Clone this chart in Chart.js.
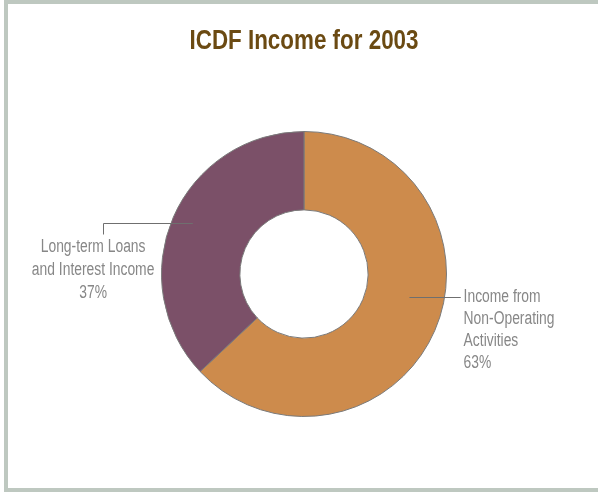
<!DOCTYPE html>
<html>
<head>
<meta charset="utf-8">
<script src="https://cdn.jsdelivr.net/npm/chart.js@4"></script>
<style>
  html, body { margin: 0; padding: 0; background: #fff; }
  #wrap { position: relative; width: 598px; height: 492px; overflow: hidden; }
  #frame {
    position: absolute; left: 4px; top: 0px; width: 600px; height: 484px;
    border-top: 4px solid #bec8c0; border-left: 4px solid #bec8c0; border-bottom: 4px solid #bec8c0;
  }
  canvas { position: absolute; left: 0; top: 0; }
</style>
</head>
<body>
<div id="wrap">
  <div id="frame"></div>
  <canvas id="donutChart" width="598" height="492"></canvas>
</div>
<script>
var title = 'ICDF Income for 2003';
var categories = ['Income from Non-Operating Activities', 'Long-term Loans and Interest Income'];
var shares = [63, 37];
var sliceColors = ['#cd8b4c', '#7b5068'];

var labelLines = [
  ['Income from', 'Non-Operating', 'Activities', '63%'],
  ['Long-term Loans', 'and Interest Income', '37%']
];

// the original uses a condensed face; squeeze Liberation Sans horizontally
function narrowText(ctx, text, x, y, align, squeeze) {
  var w = ctx.measureText(text).width * squeeze;
  var left = align === 'center' ? x - w / 2 : (align === 'right' ? x - w : x);
  ctx.save();
  ctx.translate(left, y);
  ctx.scale(squeeze, 1);
  ctx.textAlign = 'left';
  ctx.fillText(text, 0, 0);
  ctx.restore();
}

var leaderPlugin = {
  id: 'leaders',
  afterDatasetsDraw: function(chart) {
    var ctx = chart.ctx;
    var arcs = chart.getDatasetMeta(0).data;
    if (!arcs.length) return;
    var cx = arcs[0].x, cy = arcs[0].y, r = arcs[0].outerRadius;
    ctx.save();

    // title
    ctx.fillStyle = '#6b4a12';
    ctx.font = 'bold 28px "Liberation Sans", Arial, sans-serif';
    ctx.textBaseline = 'alphabetic';
    narrowText(ctx, title, cx, 49, 'center', 0.8);

    ctx.strokeStyle = '#6f6f6f';
    ctx.lineWidth = 1;
    ctx.fillStyle = '#878787';
    ctx.font = '18px "Liberation Sans", Arial, sans-serif';
    ctx.textBaseline = 'middle';

    // orange slice: line going right out of the ring
    var y0 = Math.round(cy + 0.16 * r) + 0.5;
    ctx.beginPath();
    ctx.moveTo(cx + 0.74 * r, y0);
    ctx.lineTo(cx + 1.1 * r, y0);
    ctx.stroke();
    labelLines[0].forEach(function(t, i) {
      narrowText(ctx, t, cx + 1.12 * r, y0 + i * 22, 'left', 0.77);
    });

    // purple slice: line going left, then down to the text
    var y1 = Math.round(cy - 0.36 * r) + 0.5;
    var xl = Math.round(cx - 1.41 * r) + 0.5;
    ctx.beginPath();
    ctx.moveTo(cx - 0.78 * r, y1);
    ctx.lineTo(xl, y1);
    ctx.lineTo(xl, y1 + 11);
    ctx.stroke();
    labelLines[1].forEach(function(t, i) {
      narrowText(ctx, t, cx - 1.48 * r, y1 + 24 + i * 23, 'center', 0.77);
    });
    ctx.restore();
  }
};

var ctx = document.getElementById('donutChart').getContext('2d');
var donutChart = new Chart(ctx, {
  type: 'doughnut',
  data: {
    labels: categories,
    datasets: [{
      data: shares,
      backgroundColor: sliceColors,
      borderColor: '#7a7a7a',
      borderWidth: 1
    }]
  },
  options: {
    responsive: false,
    animation: false,
    cutout: '45%',
    layout: { padding: { top: 131, bottom: 75, left: 161, right: 151 } },
    plugins: {
      legend: { display: false },
      tooltip: { enabled: false },
      title: { display: false }
    }
  },
  plugins: [leaderPlugin]
});
</script>
</body>
</html>
